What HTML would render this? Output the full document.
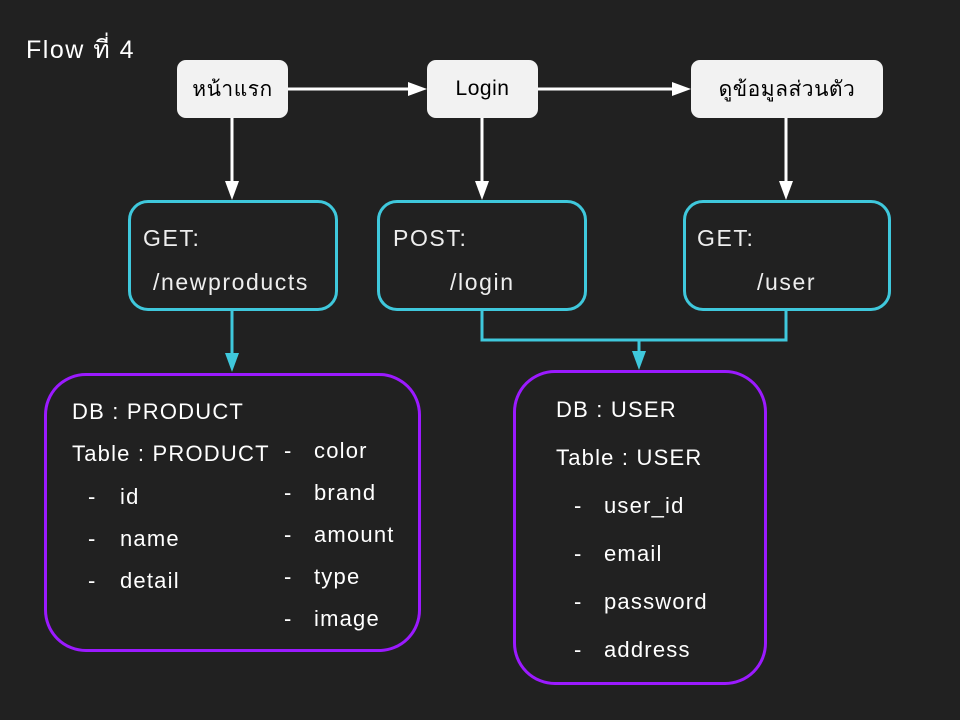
<!DOCTYPE html>
<html><head><meta charset="utf-8"><style>
html,body{margin:0;padding:0;background:#212121;}
body{width:960px;height:720px;position:relative;overflow:hidden;font-family:"Liberation Sans","DejaVu Sans",sans-serif;}
.t{position:absolute;white-space:nowrap;}
.w{position:absolute;background:#f2f2f2;border-radius:9px;color:#000;font-size:21px;display:flex;align-items:center;justify-content:center;letter-spacing:0.5px;}
.c{position:absolute;border:3px solid #3fc8dc;border-radius:20px;box-sizing:border-box;}
.p{position:absolute;border:3px solid #9b1aff;border-radius:42px;box-sizing:border-box;}
.lt{color:#eee;font-size:23px;letter-spacing:1.6px;}
</style></head><body>
<svg width="960" height="720" style="position:absolute;left:0;top:0">
<g stroke="#fff" stroke-width="3" fill="none">
<line x1="288" y1="89" x2="412" y2="89"/>
<line x1="538" y1="89" x2="676" y2="89"/>
<line x1="232" y1="118" x2="232" y2="184"/>
<line x1="482" y1="118" x2="482" y2="184"/>
<line x1="786" y1="118" x2="786" y2="184"/>
</g>
<g fill="#fff">
<polygon points="408,82 427,89 408,96"/>
<polygon points="672,82 691,89 672,96"/>
<polygon points="225,181 232,200 239,181"/>
<polygon points="475,181 482,200 489,181"/>
<polygon points="779,181 786,200 793,181"/>
</g>
<g stroke="#3fc8dc" stroke-width="3" fill="none">
<line x1="232" y1="310" x2="232" y2="356"/>
<polyline points="482,310 482,340 786,340 786,310"/>
<line x1="639" y1="340" x2="639" y2="354"/>
</g>
<g fill="#3fc8dc">
<polygon points="225,353 232,372 239,353"/>
<polygon points="632,351 639,370 646,351"/>
</g>
</svg>
<div class="t" style="left:26px;top:30px;color:#fff;font-size:25px;letter-spacing:1.5px;">Flow ที่ 4</div>
<div class="w" style="left:177px;top:60px;width:111px;height:58px;">หน้าแรก</div>
<div class="w" style="left:427px;top:60px;width:111px;height:58px;">Login</div>
<div class="w" style="left:691px;top:60px;width:192px;height:58px;">ดูข้อมูลส่วนตัว</div>
<div class="c" style="left:128px;top:200px;width:210px;height:111px;"></div>
<div class="c" style="left:377px;top:200px;width:210px;height:111px;"></div>
<div class="c" style="left:683px;top:200px;width:208px;height:111px;"></div>
<div class="t lt" style="left:143px;top:225px;">GET:</div>
<div class="t lt" style="left:153px;top:269px;">/newproducts</div>
<div class="t lt" style="left:393px;top:225px;">POST:</div>
<div class="t lt" style="left:450px;top:269px;">/login</div>
<div class="t lt" style="left:697px;top:225px;">GET:</div>
<div class="t lt" style="left:757px;top:269px;">/user</div>
<div class="p" style="left:44px;top:373px;width:377px;height:279px;"></div>
<div class="p" style="left:513px;top:370px;width:254px;height:315px;"></div>
<div style="color:#fff;font-size:22px;letter-spacing:1.2px;">
<div class="t" style="left:72px;top:399px;">DB : PRODUCT</div>
<div class="t" style="left:72px;top:441px;">Table : PRODUCT</div>
<div class="t" style="left:88px;top:484px;">-</div><div class="t" style="left:120px;top:484px;">id</div>
<div class="t" style="left:88px;top:526px;">-</div><div class="t" style="left:120px;top:526px;">name</div>
<div class="t" style="left:88px;top:568px;">-</div><div class="t" style="left:120px;top:568px;">detail</div>
<div class="t" style="left:284px;top:438px;">-</div><div class="t" style="left:314px;top:438px;">color</div>
<div class="t" style="left:284px;top:480px;">-</div><div class="t" style="left:314px;top:480px;">brand</div>
<div class="t" style="left:284px;top:522px;">-</div><div class="t" style="left:314px;top:522px;">amount</div>
<div class="t" style="left:284px;top:564px;">-</div><div class="t" style="left:314px;top:564px;">type</div>
<div class="t" style="left:284px;top:606px;">-</div><div class="t" style="left:314px;top:606px;">image</div>
<div class="t" style="left:556px;top:397px;">DB : USER</div>
<div class="t" style="left:556px;top:445px;">Table : USER</div>
<div class="t" style="left:574px;top:493px;">-</div><div class="t" style="left:604px;top:493px;">user_id</div>
<div class="t" style="left:574px;top:541px;">-</div><div class="t" style="left:604px;top:541px;">email</div>
<div class="t" style="left:574px;top:589px;">-</div><div class="t" style="left:604px;top:589px;">password</div>
<div class="t" style="left:574px;top:637px;">-</div><div class="t" style="left:604px;top:637px;">address</div>
</div>
</body></html>
